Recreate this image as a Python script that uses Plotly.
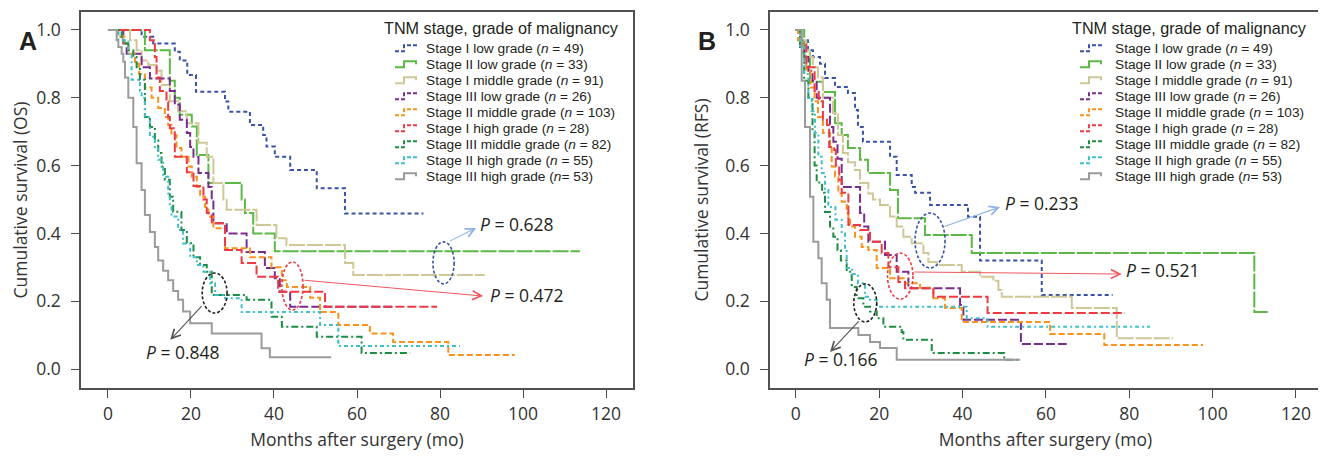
import plotly.graph_objects as go

W, H = 1326, 457

# ---------------- data ----------------
LEGEND_TITLE = "TNM stage, grade of malignancy"
SERIES_NAMES = [
    "Stage I low grade (<i>n</i> = 49)",
    "Stage II low grade (<i>n</i> = 33)",
    "Stage I middle grade (<i>n</i> = 91)",
    "Stage III low grade (<i>n</i> = 26)",
    "Stage II middle grade (<i>n</i> = 103)",
    "Stage I high grade (<i>n</i> = 28)",
    "Stage III middle grade (<i>n</i> = 82)",
    "Stage II high grade (<i>n</i> = 55)",
    "Stage III high grade (<i>n</i>= 53)",
]
X_TICKS = [0, 20, 40, 60, 80, 100, 120]
Y_TICKS = [0.0, 0.2, 0.4, 0.6, 0.8, 1.0]

# Panel A: overall survival (OS)
OS_I_LOW_T = [0, 8.1, 10.9, 16.1, 17.3, 19.1, 21.2, 28.2, 29, 34.2, 37.4, 38.2, 40.2, 43.9, 50.3, 57.1, 76]
OS_I_LOW_S = [1, 0.98, 0.96, 0.936, 0.91, 0.867, 0.818, 0.789, 0.759, 0.72, 0.69, 0.656, 0.626, 0.587, 0.533, 0.459, 0.459]
OS_II_LOW_T = [0, 8.9, 14.9, 16.1, 17.3, 20.2, 21.4, 24.2, 32.2, 33, 35, 40.2, 113.7]
OS_II_LOW_S = [1, 0.94, 0.85, 0.80, 0.75, 0.715, 0.631, 0.549, 0.50, 0.46, 0.40, 0.347, 0.347]
OS_I_MID_T = [0, 5.3, 6.9, 8.1, 9.7, 11.7, 12.9, 14.9, 16.9, 19, 21.8, 23.8, 25.4, 27.8, 28.6, 35.8, 40.6, 43, 57.1, 59.1, 90.8]
OS_I_MID_S = [1, 0.97, 0.94, 0.91, 0.897, 0.88, 0.838, 0.79, 0.76, 0.725, 0.667, 0.626, 0.549, 0.50, 0.47, 0.425, 0.386, 0.366, 0.313, 0.277, 0.277]
OS_III_LOW_T = [0, 3.7, 4.5, 8.1, 10.1, 14.9, 16.1, 17.3, 19, 19.8, 20.6, 21.8, 24.2, 25, 25.4, 28.6, 33.4, 37.8, 40.2, 41.4, 43.9, 68.7]
OS_III_LOW_S = [1, 0.96, 0.93, 0.89, 0.857, 0.82, 0.78, 0.735, 0.696, 0.655, 0.626, 0.578, 0.537, 0.50, 0.43, 0.40, 0.345, 0.298, 0.268, 0.228, 0.184, 0.184]
OS_II_MID_T = [0, 2.5, 4, 5, 6.5, 7.5, 8.9, 10.5, 12.1, 13.7, 14.5, 15.3, 16.5, 17.7, 19.4, 20.2, 21.4, 22.2, 23.4, 24.2, 25.4, 28.2, 34.2, 39.4, 41.9, 43.1, 48.7, 51.1, 55.5, 63.1, 68.7, 82, 98]
OS_II_MID_S = [1, 0.98, 0.96, 0.93, 0.90, 0.87, 0.83, 0.80, 0.77, 0.743, 0.72, 0.69, 0.652, 0.626, 0.597, 0.567, 0.537, 0.508, 0.478, 0.449, 0.415, 0.356, 0.33, 0.30, 0.262, 0.242, 0.21, 0.168, 0.13, 0.105, 0.08, 0.041, 0.041]
OS_I_HIGH_T = [0, 10.1, 11.3, 11.7, 12.5, 14.1, 14.5, 14.9, 16.1, 19, 20.6, 23, 23.8, 25, 28.2, 32.2, 35.8, 41, 52.3, 79.3]
OS_I_HIGH_S = [1, 0.97, 0.92, 0.86, 0.82, 0.788, 0.743, 0.71, 0.626, 0.58, 0.54, 0.50, 0.46, 0.43, 0.351, 0.313, 0.272, 0.228, 0.184, 0.184]
OS_III_MID_T = [0, 3.3, 3.7, 4.9, 6.1, 6.9, 7.7, 8.9, 10.1, 11.3, 12.1, 12.9, 13.7, 14.9, 15.7, 17.7, 19, 20.6, 22.2, 23.8, 25, 33.4, 39.4, 41.9, 50.3, 61.1, 72.8]
OS_III_MID_S = [1, 0.97, 0.96, 0.94, 0.92, 0.89, 0.853, 0.743, 0.714, 0.675, 0.637, 0.597, 0.558, 0.508, 0.464, 0.41, 0.372, 0.33, 0.307, 0.287, 0.218, 0.204, 0.154, 0.125, 0.095, 0.047, 0.047]
OS_II_HIGH_T = [0, 2.5, 4.9, 5.7, 7.7, 8.1, 8.9, 10.1, 11.3, 12.1, 13.3, 14.5, 14.9, 15.3, 16.9, 18.1, 19.8, 21.4, 23, 24.6, 25.8, 28.2, 32.2, 51.1, 55.5, 84.8]
OS_II_HIGH_S = [1, 0.97, 0.93, 0.853, 0.82, 0.80, 0.743, 0.685, 0.655, 0.617, 0.567, 0.518, 0.478, 0.45, 0.41, 0.37, 0.33, 0.307, 0.287, 0.253, 0.218, 0.209, 0.168, 0.13, 0.068, 0.068]
OS_III_HIGH_T = [0, 2.1, 2.5, 3.3, 3.7, 4.1, 4.9, 6.1, 6.9, 8.1, 8.9, 10.1, 11.3, 12.1, 13.3, 14.5, 15.7, 16.9, 18.1, 19.8, 25, 37, 39, 53.8]
OS_III_HIGH_S = [1, 0.97, 0.95, 0.93, 0.906, 0.86, 0.80, 0.714, 0.607, 0.528, 0.454, 0.404, 0.36, 0.32, 0.29, 0.262, 0.23, 0.204, 0.17, 0.135, 0.105, 0.061, 0.035, 0.035]

# Panel B: recurrence-free survival (RFS)
RFS_I_LOW_T = [0, 1.4, 2.9, 4.1, 5.8, 7, 9.4, 12.5, 14.2, 14.9, 16.1, 22.6, 24.2, 27.8, 28.6, 32.2, 41.3, 44.2, 59, 76]
RFS_I_LOW_S = [1, 0.97, 0.94, 0.92, 0.90, 0.858, 0.832, 0.814, 0.764, 0.714, 0.67, 0.626, 0.572, 0.537, 0.52, 0.484, 0.449, 0.32, 0.218, 0.218]
RFS_II_LOW_T = [0, 2, 3.4, 6.5, 9.4, 11, 12.5, 15.4, 17.3, 22.6, 24.5, 31, 42.2, 110, 113.5]
RFS_II_LOW_S = [1, 0.94, 0.847, 0.817, 0.725, 0.69, 0.652, 0.617, 0.578, 0.528, 0.445, 0.395, 0.342, 0.168, 0.168]
RFS_I_MID_T = [0, 1.5, 2.5, 3.3, 4.1, 5.3, 6.5, 8.9, 10.1, 11.3, 12.5, 14.2, 15.4, 17.4, 18.5, 20.2, 22.6, 24.2, 25.8, 27.8, 30.6, 31.8, 33.8, 39.8, 44.2, 47.4, 48.6, 49.4, 66.2, 77, 90.5]
RFS_I_MID_S = [1, 0.97, 0.94, 0.92, 0.89, 0.86, 0.80, 0.755, 0.69, 0.637, 0.61, 0.587, 0.549, 0.518, 0.50, 0.484, 0.45, 0.42, 0.39, 0.371, 0.342, 0.316, 0.307, 0.287, 0.272, 0.26, 0.233, 0.213, 0.18, 0.091, 0.091]
RFS_III_LOW_T = [0, 1, 2, 3, 4, 5, 8.2, 9, 10, 11, 15.4, 16.4, 17.4, 21.4, 24.2, 27, 39.4, 40.2, 54, 65]
RFS_III_LOW_S = [1, 0.96, 0.92, 0.88, 0.85, 0.80, 0.714, 0.67, 0.62, 0.537, 0.46, 0.42, 0.375, 0.336, 0.287, 0.238, 0.189, 0.145, 0.074, 0.074]
RFS_II_MID_T = [0, 0.5, 1.5, 2.5, 3.5, 4.5, 5.3, 6.5, 8.2, 8.6, 9.4, 10.2, 11, 12.2, 12.6, 13, 14.2, 15.8, 17.4, 19.4, 22.6, 26.2, 29.8, 33, 35.8, 39.8, 61, 74, 97.7]
RFS_II_MID_S = [1, 0.97, 0.93, 0.88, 0.83, 0.79, 0.743, 0.696, 0.652, 0.597, 0.567, 0.518, 0.493, 0.46, 0.44, 0.42, 0.39, 0.36, 0.351, 0.298, 0.268, 0.253, 0.24, 0.209, 0.18, 0.139, 0.103, 0.071, 0.071]
RFS_I_HIGH_T = [0, 1, 2.5, 4.5, 5.5, 6.5, 7.5, 8, 9.2, 9.6, 10.4, 11, 12.6, 15.4, 17.8, 20.6, 22.2, 24.6, 26.2, 33, 46, 79]
RFS_I_HIGH_S = [1, 0.96, 0.89, 0.82, 0.79, 0.735, 0.72, 0.655, 0.646, 0.60, 0.558, 0.52, 0.425, 0.41, 0.375, 0.342, 0.30, 0.257, 0.238, 0.213, 0.165, 0.165]
RFS_III_MID_T = [0, 1, 2, 3, 4, 4.5, 5, 6.3, 7, 8.2, 9, 10, 10.8, 12.2, 13.4, 14.6, 16.2, 17.8, 19.4, 21, 25.4, 25.8, 32.6, 50, 53.7]
RFS_III_MID_S = [1, 0.95, 0.85, 0.80, 0.70, 0.60, 0.55, 0.52, 0.463, 0.42, 0.39, 0.351, 0.32, 0.287, 0.242, 0.209, 0.184, 0.17, 0.15, 0.125, 0.109, 0.086, 0.047, 0.027, 0.027]
RFS_II_HIGH_T = [0, 1, 2, 3, 3.8, 4.6, 5.4, 6.2, 7, 7.8, 9.5, 11, 11.8, 12.2, 13.5, 14.9, 16.6, 17.8, 19.4, 41, 46, 85]
RFS_II_HIGH_S = [1, 0.95, 0.87, 0.80, 0.76, 0.696, 0.626, 0.578, 0.528, 0.478, 0.44, 0.40, 0.351, 0.298, 0.28, 0.253, 0.213, 0.204, 0.184, 0.15, 0.125, 0.125]
RFS_III_HIGH_T = [0, 1.4, 2.2, 3.4, 4.2, 5.4, 6.2, 7.4, 8.2, 15, 17.8, 20.2, 24.2, 53.8]
RFS_III_HIGH_S = [1, 0.85, 0.714, 0.508, 0.375, 0.327, 0.253, 0.204, 0.121, 0.10, 0.08, 0.062, 0.027, 0.027]

OS_SERIES = [(OS_I_LOW_T, OS_I_LOW_S), (OS_II_LOW_T, OS_II_LOW_S), (OS_I_MID_T, OS_I_MID_S),
             (OS_III_LOW_T, OS_III_LOW_S), (OS_II_MID_T, OS_II_MID_S), (OS_I_HIGH_T, OS_I_HIGH_S),
             (OS_III_MID_T, OS_III_MID_S), (OS_II_HIGH_T, OS_II_HIGH_S), (OS_III_HIGH_T, OS_III_HIGH_S)]
RFS_SERIES = [(RFS_I_LOW_T, RFS_I_LOW_S), (RFS_II_LOW_T, RFS_II_LOW_S), (RFS_I_MID_T, RFS_I_MID_S),
              (RFS_III_LOW_T, RFS_III_LOW_S), (RFS_II_MID_T, RFS_II_MID_S), (RFS_I_HIGH_T, RFS_I_HIGH_S),
              (RFS_III_MID_T, RFS_III_MID_S), (RFS_II_HIGH_T, RFS_II_HIGH_S), (RFS_III_HIGH_T, RFS_III_HIGH_S)]

P_VALUES_A = ["0.628", "0.472", "0.848"]
P_VALUES_B = ["0.233", "0.521", "0.166"]

# ---------------- styles ----------------
COLORS = ["#3953a4", "#5cb946", "#cfc797", "#7a2e8c", "#f7931e", "#ee3a43", "#1c8d43", "#3fbfc9", "#9b9b9b"]
DASHES = ["4px,3px", "16px,2px", "16px,2px", "9px,3px", "6px,3px", "9px,3px", "7px,3px,2px,3px", "4px,3px,2px,3px", "solid"]
ICON_SOLID = [False, True, True, False, False, False, False, False, True]
FONT = "Open Sans"
LEGEND_FONT = "Liberation Sans"
TXT = "#231f20"
PAGE_OFFSET = 8  # default body margin of the html page


def px_x(p):
    return (p - PAGE_OFFSET) / W


def px_y(p):
    return 1 - (p - PAGE_OFFSET) / H


fig = go.Figure()

for axis_suffix, series in (("", OS_SERIES), ("2", RFS_SERIES)):
    for (t, s), c, d, name in zip(series, COLORS, DASHES, SERIES_NAMES):
        fig.add_trace(go.Scatter(
            x=t, y=s, mode="lines", line=dict(shape="hv", color=c, width=2, dash=d),
            name=name, showlegend=False, xaxis="x" + axis_suffix, yaxis="y" + axis_suffix,
            hoverinfo="skip"))

axis_common = dict(
    showgrid=False, zeroline=False, showline=True, mirror=True, linecolor="#505050", linewidth=1.5,
    ticks="outside", ticklen=8, tickcolor="#4a4a4a", tickwidth=1.3,
    tickfont=dict(family=FONT, size=17.5, color="#333333"),
    title_font=dict(family=FONT, size=17.5, color="#333333"),
)
y_dom = [px_y(388), px_y(12)]
fig.update_layout(
    width=W, height=H, autosize=False,
    margin=dict(l=0, r=0, t=0, b=0),
    paper_bgcolor="white", plot_bgcolor="white",
    xaxis=dict(domain=[px_x(81), px_x(633)], range=[-6.5, 126.5], tickvals=X_TICKS,
               title=dict(text="Months after surgery (mo)", standoff=10), ticklabelstandoff=1, **axis_common),
    yaxis=dict(domain=y_dom, range=[-0.056, 1.053], tickvals=Y_TICKS, tickformat=".1f",
               title=dict(text="Cumulative survival (OS)", standoff=12), ticklabelstandoff=7, **axis_common),
    xaxis2=dict(domain=[px_x(770), px_x(1321)], range=[-6.2, 126], tickvals=X_TICKS, anchor="y2",
                title=dict(text="Months after surgery (mo)", standoff=10), ticklabelstandoff=1, **axis_common),
    yaxis2=dict(domain=y_dom, range=[-0.056, 1.053], tickvals=Y_TICKS, tickformat=".1f", anchor="x2",
                title=dict(text="Cumulative survival (RFS)", standoff=12), ticklabelstandoff=7, **axis_common),
)

annotations = []
shapes = []

# panel letters
for letter, lx in (("A", 17), ("B", 707)):
    annotations.append(dict(text="<b>%s</b>" % letter, x=px_x(lx), y=px_y(25), xref="paper", yref="paper",
                            showarrow=False, font=dict(family="Liberation Sans", size=25, color=TXT)))

# manual legends (text + step icons)
for title_left, icon_left, text_left in ((382, 395, 424), (1070, 1080, 1113)):
    annotations.append(dict(text=LEGEND_TITLE, x=px_x(title_left), y=px_y(28), xref="paper", yref="paper",
                            xanchor="left", yanchor="middle", showarrow=False,
                            font=dict(family=LEGEND_FONT, size=16.2, color=TXT)))
    for i, (name, c, solid) in enumerate(zip(SERIES_NAMES, COLORS, ICON_SOLID)):
        yc = 48.3 + 16.0 * i
        annotations.append(dict(text=name, x=px_x(text_left), y=px_y(yc), xref="paper", yref="paper",
                                xanchor="left", yanchor="middle", showarrow=False,
                                font=dict(family=LEGEND_FONT, size=13.7, color=TXT)))
        x0 = icon_left
        path = "M %f %f L %f %f L %f %f L %f %f L %f %f" % (
            px_x(x0), px_y(yc + 3), px_x(x0 + 9), px_y(yc + 3), px_x(x0 + 9), px_y(yc - 3),
            px_x(x0 + 21), px_y(yc - 3), px_x(x0 + 21), px_y(yc))
        shapes.append(dict(type="path", path=path, xref="paper", yref="paper",
                           line=dict(color=c, width=2, dash="solid" if solid else "4px,2px")))

# ellipses, arrows and P values (positions in data units of each panel)
BLUE_NOTE, RED_NOTE, BLACK_NOTE = "#3953a4", "#ee3a43", "#222222"
ARROW_BLUE, ARROW_RED, ARROW_BLACK = "#8fb3e6", "#f05a60", "#555555"
notes = [
    # (xref, yref, ellipse(x0,x1,y0,y1), ellipse color, arrow tail, arrow head, arrow color, text pos, text)
    ("x", "y", (78.3, 83.4, 0.251, 0.375), BLUE_NOTE, (82.0, 0.375), (88.7, 0.416), ARROW_BLUE, (98.6, 0.428), P_VALUES_A[0]),
    ("x", "y", (41.9, 47.0, 0.174, 0.316), RED_NOTE, (47.0, 0.262), (90.4, 0.215), ARROW_RED, (101.0, 0.218), P_VALUES_A[1]),
    ("x", "y", (22.7, 28.7, 0.165, 0.283), BLACK_NOTE, (22.9, 0.19), (15.0, 0.086), ARROW_BLACK, (18.0, 0.05), P_VALUES_A[2]),
    ("x2", "y2", (28.6, 35.8, 0.298, 0.46), BLUE_NOTE, (35.3, 0.419), (49.0, 0.478), ARROW_BLUE, (59.0, 0.49), P_VALUES_B[0]),
    ("x2", "y2", (22.0, 28.1, 0.206, 0.342), RED_NOTE, (28.1, 0.286), (78.2, 0.28), ARROW_RED, (88.0, 0.292), P_VALUES_B[1]),
    ("x2", "y2", (13.9, 19.4, 0.139, 0.251), BLACK_NOTE, (15.4, 0.145), (8.2, 0.05), ARROW_BLACK, (10.9, 0.03), P_VALUES_B[2]),
]
for xr, yr, (ex0, ex1, ey0, ey1), ec, tail, head, ac, tpos, ptxt in notes:
    shapes.append(dict(type="circle", xref=xr, yref=yr, x0=ex0, x1=ex1, y0=ey0, y1=ey1,
                       line=dict(color=ec, width=1.6, dash="3px,2px")))
    annotations.append(dict(text="", x=head[0], y=head[1], ax=tail[0], ay=tail[1], xref=xr, yref=yr,
                            axref=xr, ayref=yr, showarrow=True, arrowhead=5, arrowsize=1.6,
                            arrowwidth=1.1, arrowcolor=ac, standoff=0, startstandoff=0))
    annotations.append(dict(text="<i>P</i> = " + ptxt, x=tpos[0], y=tpos[1], xref=xr, yref=yr,
                            showarrow=False, xanchor="center", yanchor="middle",
                            font=dict(family=FONT, size=17.5, color=TXT)))

fig.update_layout(annotations=annotations, shapes=shapes)
fig.write_html("out.html")
